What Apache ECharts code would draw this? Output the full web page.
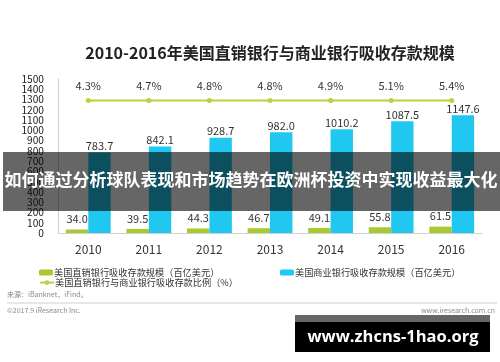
<!DOCTYPE html>
<html><head><meta charset="utf-8">
<script src="https://cdn.jsdelivr.net/npm/echarts@6/dist/echarts.min.js"></script>
<style>html,body{margin:0;padding:0;background:#fff}#c{width:500px;height:362px}</style>
</head><body><div id="c"></div>
<script>
const years = ['2010','2011','2012','2013','2014','2015','2016'];
const directDeposits = [34.0, 39.5, 44.3, 46.7, 49.1, 55.8, 61.5];
const commercialDeposits = [783.7, 842.1, 928.7, 982.0, 1010.2, 1087.5, 1147.6];
const ratioPct = [4.3, 4.7, 4.8, 4.8, 4.9, 5.1, 5.4];
const yTicks = {min: 0, max: 1500, interval: 100};
const nameDirect = '美国直销银行吸收存款规模（百亿美元）';
const nameCommercial = '美国商业银行吸收存款规模（百亿美元）';
const nameRatio = '美国直销银行与商业银行吸收存款比例（%）';

const F = '"Noto Sans CJK SC", "Noto Sans", sans-serif';
const ratioDisplayLevel = 1290; // the ratio line is drawn flat, as in the original
const chart = echarts.init(document.getElementById('c'), null, {renderer: 'canvas'});
chart.setOption({
  backgroundColor: '#fff',
  animation: false,
  textStyle: {fontFamily: F},
  title: {
    text: '2010-2016年美国直销银行与商业银行吸收存款规模',
    left: 265, textAlign: 'center', top: 40,
    textStyle: {fontSize: 16, fontWeight: 'bold', color: '#222', fontFamily: F}
  },
  grid: {left: 58, right: 18, top: 79, bottom: 129},
  legend: [
    {data: [nameDirect], left: 34, top: 263, itemWidth: 14, itemHeight: 6, itemGap: 4,
     textStyle: {fontSize: 9.2, color: '#333', padding: [0,0,0,-4]}},
    {data: [nameCommercial], left: 275, top: 263, itemWidth: 14, itemHeight: 6,
     textStyle: {fontSize: 9.2, color: '#333', padding: [0,0,0,-4]}},
    {data: [nameRatio], left: 34, top: 273, itemWidth: 14, itemHeight: 6,
     textStyle: {fontSize: 9.2, color: '#333', padding: [0,0,0,-4]}}
  ],
  xAxis: {
    type: 'category', data: years, boundaryGap: true,
    axisLine: {lineStyle: {color: '#d0d0d0', width: 1}},
    axisTick: {show: false},
    axisLabel: {fontSize: 12, color: '#333', margin: 10, fontFamily: F}
  },
  yAxis: {
    type: 'value', min: yTicks.min, max: yTicks.max, interval: yTicks.interval,
    axisLine: {show: true, lineStyle: {color: '#d0d0d0'}},
    axisTick: {show: false},
    splitLine: {show: false},
    axisLabel: {fontSize: 10.2, color: '#222', margin: 14, lineHeight: 8, fontFamily: F,
      showMinLabel: true, showMaxLabel: true, hideOverlap: false,
      formatter: v => String(v)}
  },
  series: [
    {name: nameDirect, type: 'bar', data: directDeposits, barGap: '0%', barCategoryGap: '26%',
     itemStyle: {color: '#a8c92f'},
     label: {show: true, position: 'top', distance: 5, fontSize: 11, color: '#333',
       formatter: p => p.value.toFixed(1)}},
    {name: nameCommercial, type: 'bar', data: commercialDeposits,
     itemStyle: {color: '#20c7f0'},
     label: {show: true, position: 'top', distance: 1, fontSize: 11, color: '#333',
       formatter: p => p.value.toFixed(1)}},
    {name: nameRatio, type: 'line', data: ratioPct.map(() => ratioDisplayLevel),
     symbol: 'circle', symbolSize: 5,
     lineStyle: {color: '#b8d43c', width: 2}, itemStyle: {color: '#b8d43c'},
     label: {show: true, position: 'top', distance: 7, fontSize: 11, color: '#333',
       formatter: p => ratioPct[p.dataIndex].toFixed(1) + '%'}}
  ],
  graphic: [
    {type: 'text', left: 7, top: 291, style: {text: '来源：iBanknet，iFind。', fontSize: 7, fill: '#888', fontFamily: F}},
    {type: 'line', shape: {x1: 7, y1: 303, x2: 497, y2: 303}, style: {stroke: '#cfcfcf', lineWidth: 1}},
    {type: 'text', left: 7, top: 307, style: {text: '©2017.9 iResearch Inc.', fontSize: 7, fill: '#888', fontFamily: F}},
    {type: 'text', right: 5, top: 307, style: {text: 'www.iresearch.com.cn', fontSize: 7, fill: '#888', fontFamily: F}},
    {type: 'rect', shape: {x: 3, y: 152, width: 497, height: 59}, style: {fill: 'rgba(0,0,0,0.6)'}, z: 100},
    {type: 'text', x: 251, y: 180, z: 101,
     style: {text: '如何通过分析球队表现和市场趋势在欧洲杯投资中实现收益最大化', fontSize: 17, fontWeight: 'bold',
       fill: '#fff', align: 'center', verticalAlign: 'middle', fontFamily: F}},
    {type: 'rect', shape: {x: 295, y: 315, width: 195, height: 8}, style: {fill: '#666'}, z: 100},
    {type: 'rect', shape: {x: 295, y: 322, width: 195, height: 30}, style: {fill: '#000'}, z: 100},
    {type: 'text', x: 393, y: 337, z: 101,
     style: {text: 'www.zhcns-1hao.org', fontSize: 16.5, fontWeight: 'bold', fill: '#fff',
       align: 'center', verticalAlign: 'middle', fontFamily: '"Open Sans", "Noto Sans", sans-serif'}}
  ]
});
</script></body></html>
